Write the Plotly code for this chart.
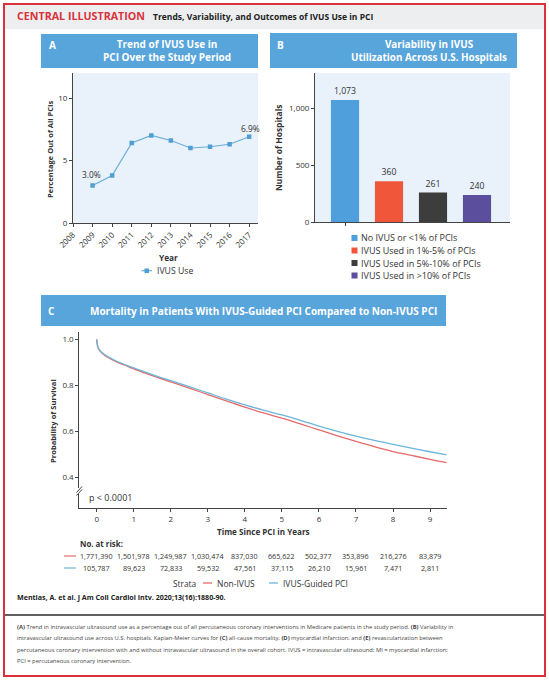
import plotly.graph_objects as go

W, H = 549, 680
def X(px): return px / W
def Y(py): return 1 - py / H

FONT = "Open Sans"
DARK = "#333333"

# ---------------- data ----------------
years = [2009, 2010, 2011, 2012, 2013, 2014, 2015, 2016, 2017]
ivus_pct = [3.0, 3.8, 6.4, 7.0, 6.6, 6.0, 6.1, 6.3, 6.9]

hosp_cats = ["No IVUS or <1% of PCIs", "IVUS Used in 1%-5% of PCIs",
             "IVUS Used in 5%-10% of PCIs", "IVUS Used in >10% of PCIs"]
hosp_counts = [1073, 360, 261, 240]
hosp_colors = ["#4e9fdb", "#f0573a", "#3d3d3d", "#5b4e9d"]

km_time = [0, 0.05, 0.2, 0.5, 1, 1.5, 2, 2.5, 3, 3.5, 4, 4.5, 5, 5.5, 6, 6.5,
           7, 7.5, 8, 8.5, 9, 9.45]
km_non_ivus = [1.0, 0.958, 0.932, 0.905, 0.872, 0.842, 0.815, 0.788, 0.760,
               0.732, 0.705, 0.680, 0.657, 0.632, 0.606, 0.580, 0.556, 0.533,
               0.512, 0.495, 0.478, 0.464]
km_ivus = [1.0, 0.960, 0.935, 0.908, 0.876, 0.847, 0.820, 0.794, 0.767, 0.740,
           0.715, 0.692, 0.671, 0.648, 0.623, 0.600, 0.579, 0.560, 0.543,
           0.527, 0.511, 0.497]

risk_times = [0, 1, 2, 3, 4, 5, 6, 7, 8, 9]
risk_non_ivus = ["1,771,390", "1,501,978", "1,249,987", "1,030,474", "837,030",
                 "665,622", "502,377", "353,896", "216,276", "83,879"]
risk_ivus = ["105,787", "89,623", "72,833", "59,532", "47,561", "37,115",
             "26,210", "15,961", "7,471", "2,811"]

RED_KM = "#e56a6a"
BLUE_KM = "#6bb6db"
HEAD_BLUE = "#58a5dc"

fig = go.Figure()

# Panel A
fig.add_trace(go.Scatter(x=years, y=ivus_pct, mode="lines+markers",
                         line=dict(color="#6aaed8", width=1.2),
                         marker=dict(symbol="square", size=4.5, color="#4f9fd3"),
                         xaxis="x", yaxis="y", showlegend=False, cliponaxis=False))
# Panel B
for i, (c, v, col) in enumerate(zip(hosp_cats, hosp_counts, hosp_colors)):
    fig.add_trace(go.Bar(x=[i], y=[v], width=0.64, marker=dict(color=col, line=dict(width=0)),
                         text=[f"{v:,}"], textposition="outside",
                         textfont=dict(family=FONT, size=8.7, color=DARK),
                         cliponaxis=False, xaxis="x2", yaxis="y2", showlegend=False, name=c))
# Panel C
fig.add_trace(go.Scatter(x=km_time, y=km_non_ivus, mode="lines",
                         line=dict(color=RED_KM, width=1.3, shape="spline"),
                         xaxis="x3", yaxis="y3", showlegend=False))
fig.add_trace(go.Scatter(x=km_time, y=km_ivus, mode="lines",
                         line=dict(color=BLUE_KM, width=1.3, shape="spline"),
                         xaxis="x3", yaxis="y3", showlegend=False))

axfont = dict(family=FONT, size=8, color=DARK)
common = dict(showgrid=False, zeroline=False, showline=True, linecolor="#444",
              linewidth=1, ticks="outside", ticklen=3, tickcolor="#444",
              tickfont=axfont, automargin=False)

fig.update_layout(
    width=W, height=H, margin=dict(l=0, r=0, t=0, b=0, pad=0, autoexpand=False),
    paper_bgcolor="white", plot_bgcolor="rgba(0,0,0,0)",
    barmode="overlay", showlegend=False, hovermode=False,
    font=dict(family=FONT, color=DARK),
    xaxis=dict(domain=[X(73), X(258)], range=[2008, 2017.45], anchor="y",
               tickvals=list(range(2008, 2018)), tickangle=-45, **common),
    yaxis=dict(domain=[Y(223), Y(73)], range=[0, 12], anchor="x",
               tickvals=[0, 5, 10], **common),
    xaxis2=dict(domain=[X(315), X(510)], range=[-0.682, 3.75], anchor="y2",
                tickvals=[0], showticklabels=False, **common),
    yaxis2=dict(domain=[Y(222.3), Y(73)], range=[0, 1310], anchor="x2",
                tickvals=[0, 500, 1000], tickformat=",d", **common),
    xaxis3=dict(domain=[X(79.3), X(446.7)], range=[-0.47, 9.45], anchor="y3",
                tickvals=list(range(10)), **common),
    yaxis3=dict(domain=[Y(508.3), Y(332)], range=[0.265, 1.032], anchor="x3",
                tickvals=[0.4, 0.6, 0.8, 1.0], tickformat=".1f", **common),
)

shapes = []
shapes.append(dict(type="rect", xref="x domain", yref="y domain", x0=0, x1=1, y0=0, y1=1,
                   fillcolor="#e9f1fa", line=dict(width=0), layer="below"))
shapes.append(dict(type="rect", xref="x2 domain", yref="y2 domain", x0=0, x1=1, y0=0, y1=1,
                   fillcolor="#e9f1fa", line=dict(width=0), layer="below"))
shapes.append(dict(type="rect", xref="paper", yref="paper", x0=X(4), x1=X(545),
                   y0=Y(29), y1=Y(4), fillcolor="#eceef0", line=dict(width=0), layer="below"))
for (x0, x1, y0, y1) in [(41, 258, 34, 68), (270, 517, 33, 68), (41, 446, 295, 326)]:
    shapes.append(dict(type="rect", xref="paper", yref="paper", x0=X(x0), x1=X(x1),
                       y0=Y(y1), y1=Y(y0), fillcolor=HEAD_BLUE, line=dict(width=0)))
shapes.append(dict(type="line", xref="paper", yref="paper", x0=X(4), x1=X(545),
                   y0=Y(615), y1=Y(615), line=dict(color="#2b2b2b", width=1.5)))
shapes.append(dict(type="rect", xref="paper", yref="paper", x0=X(4), x1=X(545),
                   y0=Y(676), y1=Y(4), line=dict(color="#d9323c", width=2)))
shapes.append(dict(type="rect", xref="paper", yref="paper", x0=X(77), x1=X(82),
                   y0=Y(494), y1=Y(488), fillcolor="white", line=dict(width=0)))
for dy in (0, 3):
    shapes.append(dict(type="line", xref="paper", yref="paper", x0=X(76.5), x1=X(82),
                       y0=Y(494 - dy + 1.5), y1=Y(488 - dy + 1.5), line=dict(color="#444", width=1)))

shapes.append(dict(type="line", xref="paper", yref="paper", x0=X(141.5), x1=X(152),
                   y0=Y(270.7), y1=Y(270.7), line=dict(color="#6aaed8", width=1.2)))
shapes.append(dict(type="rect", xref="paper", yref="paper", x0=X(144.5), x1=X(149),
                   y0=Y(273), y1=Y(268.5), fillcolor="#4f9fd3", line=dict(width=0)))
leg_b_y = [238, 250.5, 263, 275.5]
for yy, col in zip(leg_b_y, hosp_colors):
    shapes.append(dict(type="rect", xref="paper", yref="paper", x0=X(351.5), x1=X(357.5),
                       y0=Y(yy + 3), y1=Y(yy - 3), fillcolor=col, line=dict(width=0)))
shapes.append(dict(type="line", xref="paper", yref="paper", x0=X(203), x1=X(212),
                   y0=Y(583), y1=Y(583), line=dict(color=RED_KM, width=1.3)))
shapes.append(dict(type="line", xref="paper", yref="paper", x0=X(269), x1=X(278),
                   y0=Y(583), y1=Y(583), line=dict(color=BLUE_KM, width=1.3)))
shapes.append(dict(type="line", xref="paper", yref="paper", x0=X(64), x1=X(76),
                   y0=Y(556), y1=Y(556), line=dict(color=RED_KM, width=1.2)))
shapes.append(dict(type="line", xref="paper", yref="paper", x0=X(64), x1=X(76),
                   y0=Y(568), y1=Y(568), line=dict(color=BLUE_KM, width=1.2)))
fig.update_layout(shapes=shapes)

ann = []
def A(text, x, y, size=8, color=DARK, xanchor="center", yanchor="middle", bold=False, **kw):
    t = f"<b>{text}</b>" if bold else text
    ann.append(dict(text=t, x=X(x), y=Y(y), xref="paper", yref="paper", showarrow=False,
                    xanchor=xanchor, yanchor=yanchor, borderpad=0,
                    font=dict(family=FONT, size=size, color=color), **kw))

A("CENTRAL ILLUSTRATION", 16, 16, size=10.7, color="#d9323c", xanchor="left", bold=True)
A("Trends, Variability, and Outcomes of IVUS Use in PCI", 152, 16, size=8.5,
  color="#222", xanchor="left", bold=True)
A("A", 48, 45, size=10, color="white", xanchor="left", bold=True)
A("Trend of IVUS Use in<br>PCI Over the Study Period", 167, 51, size=10, color="white", bold=True)
A("B", 276, 45, size=10, color="white", xanchor="left", bold=True)
A("Variability in IVUS<br>Utilization Across U.S. Hospitals", 429, 51, size=9.9, color="white", bold=True)
A("C", 47, 310.7, size=10, color="white", xanchor="left", bold=True)
A("Mortality in Patients With IVUS-Guided PCI Compared to Non-IVUS PCI", 263, 310.7,
  size=10, color="white", bold=True)

A("Percentage Out of All PCIs", 50, 150, size=7.5, bold=True, textangle=-90)
A("Year", 168, 257, size=8.3, bold=True)
A("IVUS Use", 156, 271, size=8.7, xanchor="left")
A("Number of Hospitals", 278, 148, size=8.4, bold=True, textangle=-90)
for yy, c in zip(leg_b_y, hosp_cats):
    A(c, 360, yy, size=9, xanchor="left")
A("Probability of Survival", 53, 421, size=7.6, bold=True, textangle=-90)
A("Time Since PCI in Years", 263, 531, size=8.1, bold=True)
A("p &lt; 0.0001", 88, 498, size=9, xanchor="left")
A("No. at risk:", 79, 543.5, size=7.9, xanchor="left", bold=True)
A("Strata", 197, 583, size=8.3, xanchor="right")
A("Non-IVUS", 216, 583, size=8.5, xanchor="left")
A("IVUS-Guided PCI", 282, 583, size=8.5, xanchor="left")

ann.append(dict(text="3.0%", x=years[0], y=ivus_pct[0], xref="x", yref="y", showarrow=False,
                yshift=10.5, xshift=-1, font=dict(family=FONT, size=8.4, color=DARK)))
ann.append(dict(text="6.9%", x=years[-1], y=ivus_pct[-1], xref="x", yref="y", showarrow=False,
                yshift=8.5, xshift=1, font=dict(family=FONT, size=8.4, color=DARK)))

for t, a, b in zip(risk_times, risk_non_ivus, risk_ivus):
    ann.append(dict(text=a, x=t, y=Y(556), xref="x3", yref="paper", showarrow=False,
                    xanchor="center", yanchor="middle",
                    borderpad=0, font=dict(family=FONT, size=7.2, color=DARK)))
    ann.append(dict(text=b, x=t, y=Y(568), xref="x3", yref="paper", showarrow=False,
                    xanchor="center", yanchor="middle",
                    borderpad=0, font=dict(family=FONT, size=7.2, color=DARK)))

A("Mentias, A. et al. J Am Coll Cardiol Intv. 2020;13(16):1880-90.", 16, 597, size=7.1,
  color="#222", xanchor="left", bold=True)
cap = [
    "<b>(A)</b> Trend in intravascular ultrasound use as a percentage out of all percutaneous coronary interventions in Medicare patients in the study period. <b>(B)</b> Variability in",
    "intravascular ultrasound use across U.S. hospitals. Kaplan-Meier curves for <b>(C)</b> all-cause mortality, <b>(D)</b> myocardial infarction, and <b>(E)</b> revascularization between",
    "percutaneous coronary intervention with and without intravascular ultrasound in the overall cohort. IVUS = intravascular ultrasound; MI = myocardial infarction;",
    "PCI = percutaneous coronary intervention.",
]
for i, line in enumerate(cap):
    A(line, 16, 627 + i * 11.3, size=5.8, color="#444", xanchor="left")

fig.update_layout(annotations=ann)
fig.write_html("out.html", config={"displayModeBar": False, "responsive": False},
               post_script="document.body.style.margin='0';document.body.style.overflow='hidden';")
